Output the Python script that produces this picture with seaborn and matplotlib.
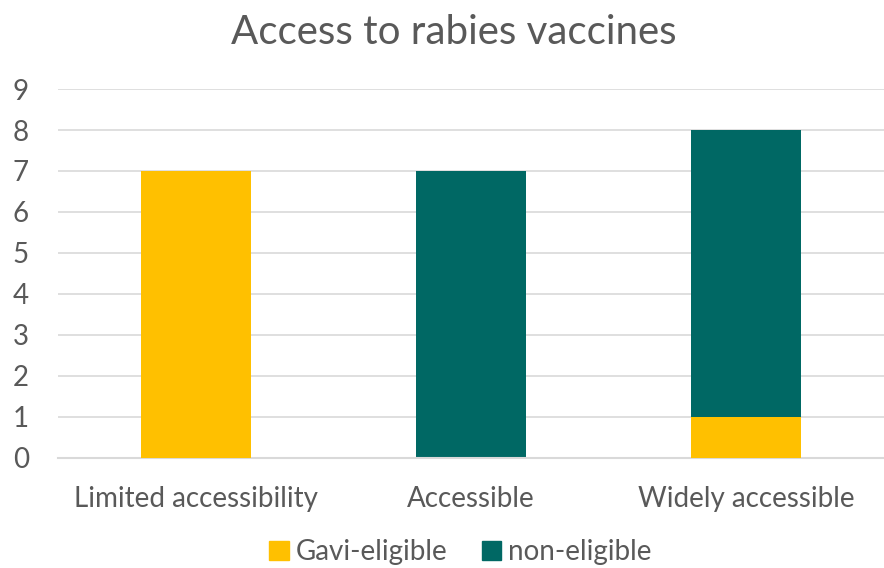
import matplotlib.pyplot as plt
import pandas as pd
import seaborn as sns
from matplotlib.patches import Patch

categories = ["Limited accessibility", "Accessible", "Widely accessible"]
gavi_eligible = [7, 0, 1]
non_eligible = [0, 7, 7]

GOLD = "#FFC000"
TEAL = "#006864"
TEXT = "#595959"

df = pd.DataFrame(
    {"category": categories, "gavi": gavi_eligible, "non": non_eligible}
)
df["total"] = df["gavi"] + df["non"]

sns.set_style("white")
plt.rcParams["font.family"] = ["Lato", "DejaVu Sans"]

fig = plt.figure(figsize=(8.84, 5.68), dpi=100)
ax = fig.add_axes([0.0656, 0.1937, 0.934, 0.6496])

# stacked: draw the total in teal, then the gavi part over it
sns.barplot(data=df, x="category", y="total", color=TEAL, width=0.4,
            saturation=1, linewidth=0, ax=ax, zorder=2)
sns.barplot(data=df, x="category", y="gavi", color=GOLD, width=0.4,
            saturation=1, linewidth=0, ax=ax, zorder=3)

ax.set_ylim(0, 9)
ax.set_yticks(range(10))
ax.yaxis.grid(True, color="#D9D9D9", linewidth=1.2, zorder=0)
ax.set_axisbelow(True)
for s in ["top", "right", "left"]:
    ax.spines[s].set_visible(False)
ax.spines["bottom"].set_color("#D9D9D9")
ax.spines["bottom"].set_linewidth(1.5)
ax.tick_params(axis="both", length=0, labelsize=20, colors=TEXT)
ax.tick_params(axis="x", pad=20)
ax.tick_params(axis="y", pad=21)
ax.set_xlabel("")
ax.set_ylabel("")

fig.text(0.513, 0.942, "Access to rabies vaccines", ha="center", va="center",
         fontsize=29, color=TEXT)

handles = [Patch(color=GOLD, label="Gavi-eligible"),
           Patch(color=TEAL, label="non-eligible")]
fig.legend(handles=handles, loc="center", bbox_to_anchor=(0.521, 0.028),
           ncol=2, frameon=False, fontsize=20, labelcolor=TEXT,
           handlelength=0.7, handleheight=0.7, handletextpad=0.25,
           columnspacing=1.25)

fig.savefig("out.png", dpi=100)
